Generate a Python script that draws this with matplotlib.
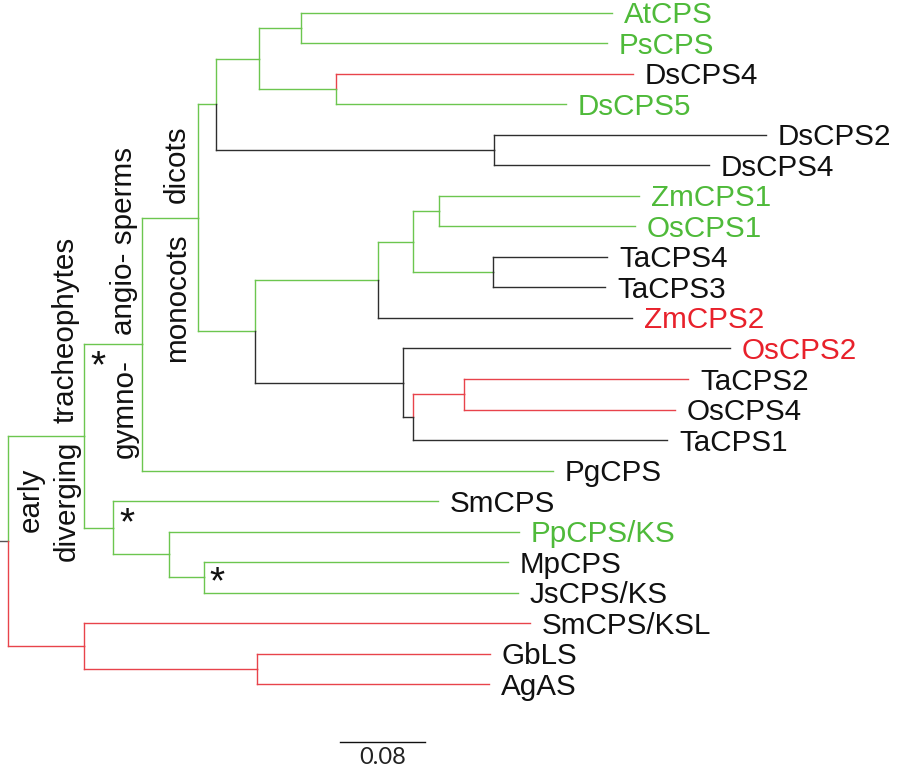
import matplotlib
matplotlib.use("Agg")
import matplotlib.pyplot as plt
from matplotlib.collections import LineCollection

plt.rcParams["font.family"] = ["Liberation Sans", "DejaVu Sans"]

# internal nodes of the tree: parent and branch length (substitutions/site)
node_names = ["root", "trach", "seed", "angio", "dicot", "d1", "d11", "d12", "d2",
              "mono", "m1", "m11", "m111", "m112", "m2", "m21", "m211",
              "bryo", "b1", "b11", "red", "red1"]
node_parents = [None, "root", "trach", "seed", "angio", "dicot", "d1", "d1", "dicot",
                "angio", "mono", "m1", "m11", "m11", "mono", "m2", "m21",
                "trach", "bryo", "b1", "root", "red"]
node_lengths = [0.0075, 0.0715, 0.0546, 0.0527, 0.0169, 0.0405, 0.0395, 0.0725, 0.2616,
                0.0536, 0.1158, 0.0329, 0.0245, 0.0753, 0.1393, 0.0094, 0.0480,
                0.0273, 0.0527, 0.0329, 0.0715, 0.1628]
node_colors = ["gray", "g", "g", "g", "g", "g", "g", "g", "k",
               "g", "g", "g", "g", "g", "k", "k", "r",
               "g", "g", "g", "r", "r"]

# leaves, top to bottom
leaf_names = ["AtCPS", "PsCPS", "DsCPS4", "DsCPS5", "DsCPS2", "DsCPS4", "ZmCPS1", "OsCPS1",
              "TaCPS4", "TaCPS3", "ZmCPS2", "OsCPS2", "TaCPS2", "OsCPS4", "TaCPS1", "PgCPS",
              "SmCPS", "PpCPS/KS", "MpCPS", "JsCPS/KS", "SmCPS/KSL", "GbLS", "AgAS"]
leaf_parents = ["d11", "d11", "d12", "d12", "d2", "d2", "m111", "m111",
                "m112", "m112", "m1", "m2", "m211", "m211", "m21", "seed",
                "bryo", "b1", "b11", "b11", "red", "red1", "red1"]
leaf_lengths = [0.2927, 0.2880, 0.2795, 0.2165, 0.2560, 0.2024, 0.1882, 0.1845,
                0.1073, 0.1054, 0.2391, 0.3078, 0.2108, 0.1986, 0.2391, 0.3868,
                0.3059, 0.3294, 0.2861, 0.2955, 0.4198, 0.2193, 0.2184]
leaf_colors = ["g", "g", "r", "g", "k", "k", "g", "g",
               "k", "k", "k", "k", "r", "r", "k", "g",
               "g", "g", "g", "g", "r", "r", "r"]
label_colors = ["g", "g", "k", "g", "k", "k", "g", "g",
                "k", "k", "r", "r", "k", "k", "k", "k",
                "k", "g", "k", "k", "k", "k", "k"]

scale_len = 0.08

line_rgb = {"g": "#6cc64f", "r": "#e8434b", "k": "#2e2e2e", "gray": "#555555"}
text_rgb = {"g": "#4fba3a", "r": "#e8212b", "k": "#111111"}

# ---- tree layout ----
parent = dict(zip(node_names, node_parents))
length = dict(zip(node_names, node_lengths))
color = dict(zip(node_names, node_colors))
leaf_ids = [f"leaf{i}" for i in range(len(leaf_names))]
for i, lid in enumerate(leaf_ids):
    parent[lid] = leaf_parents[i]
    length[lid] = leaf_lengths[i]
    color[lid] = leaf_colors[i]

children = {}
for n, p in parent.items():
    if p is not None:
        children.setdefault(p, []).append(n)

xpos = {}


def get_x(n):
    if n not in xpos:
        p = parent[n]
        xpos[n] = length[n] + (get_x(p) if p is not None else 0.0)
    return xpos[n]


ypos = {lid: float(i) for i, lid in enumerate(leaf_ids)}


def get_y(n):
    if n not in ypos:
        ys = [get_y(c) for c in children[n]]
        ypos[n] = (min(ys) + max(ys)) / 2
    return ypos[n]


for n in parent:
    get_x(n)
    get_y(n)

fig = plt.figure(figsize=(9, 7.72), dpi=100)
ax = fig.add_axes([0, 0, 1, 1])
ax.set_xlim(0, 0.847)
ax.set_ylim(24.885, -0.426)
ax.axis("off")

segs, cols = [], []
for n, p in parent.items():
    if p is None:
        segs.append([(0, ypos[n]), (xpos[n], ypos[n])])
    else:
        segs.append([(xpos[p], ypos[n]), (xpos[n], ypos[n])])
        segs.append([(xpos[p], ypos[p]), (xpos[p], ypos[n])])
        cols.append(line_rgb[color[n]])
    cols.append(line_rgb[color[n]])
ax.add_collection(LineCollection(segs, colors=cols, linewidths=1.0, capstyle="projecting"))

for i, lid in enumerate(leaf_ids):
    ax.annotate(leaf_names[i], xy=(xpos[lid], ypos[lid]), xytext=(12, -10.5),
                textcoords="offset pixels", ha="left", va="baseline",
                fontsize=21.3, color=text_rgb[label_colors[i]])

# clade labels (rotated)
W, H = 900, 772
clades = [("early", 31, 500), ("diverging", 67, 501), ("tracheophytes", 65, 330),
          ("gymno-", 125, 408), ("angio- sperms", 124, 241),
          ("dicots", 177, 164), ("monocots", 177, 298)]
for txt, px, py in clades:
    fig.text(px / W, 1 - py / H, txt, rotation=90, ha="center", va="center",
             fontsize=21.3, color="#111111")

for px, py in [(98, 360), (127, 517), (217, 576)]:
    fig.text(px / W, 1 - (py + 17) / H, "*", ha="center", va="baseline",
             fontsize=28, color="#111111")

# scale bar
sb_x0, sb_y = 0.32, 23.9
ax.plot([sb_x0, sb_x0 + scale_len], [sb_y, sb_y], color="#111111", lw=1.0)
ax.annotate(f"{scale_len:.2f}", xy=(sb_x0 + scale_len / 2, sb_y), xytext=(0, -5),
            textcoords="offset pixels", ha="center", va="top",
            fontsize=17, family="Lato", color="#222222")

fig.savefig("out.png", dpi=100)
